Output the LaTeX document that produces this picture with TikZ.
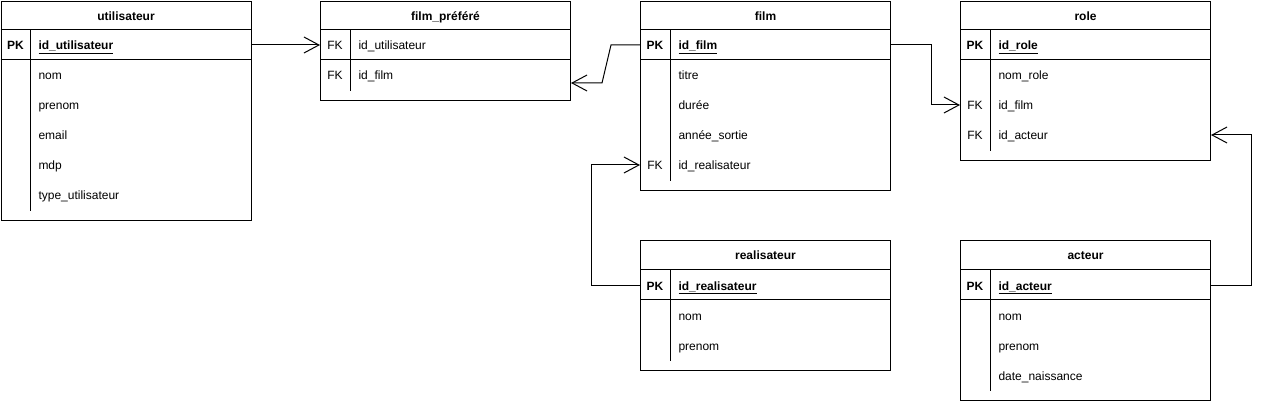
\documentclass[tikz,border=0pt]{standalone}
\usepackage{fontspec}
\setmainfont{Liberation Sans}
\usetikzlibrary{arrows.meta}
\newcommand\ertable[5]{%
  \node[tbl, minimum height=#4pt] (#1) at (#2,#3) {};
  \node[ttl] (#1-t) at ([yshift=-14.5pt]#1.north) {#5};
  \draw ([yshift=-29pt]#1.north west) -- ([yshift=-29pt]#1.north east);
  \draw ([yshift=-59pt]#1.north west) -- ([yshift=-59pt]#1.north east);
  \draw ([shift={(30pt,-29pt)}]#1.north west) -- ([shift={(30pt,10pt)}]#1.south west);
}
\begin{document}
\begin{tikzpicture}[x=1pt,y=-1pt, line width=1pt,
  tbl/.style={draw, rectangle, minimum width=250pt, anchor=north west, inner sep=0pt},
  ttl/.style={font=\bfseries\fontsize{12}{14}\selectfont, anchor=center, inner sep=0pt, text height=11pt, text depth=1pt},
  key/.style={font=\fontsize{12}{14}\selectfont, anchor=center, inner sep=0pt, text height=11pt, text depth=1pt},
  pkey/.style={key, font=\bfseries\fontsize{12}{14}\selectfont},
  fld/.style={font=\fontsize{12}{14}\selectfont, anchor=west, inner sep=0pt, text height=11pt, text depth=1pt},
  pfld/.style={fld, font=\bfseries\fontsize{12}{14}\selectfont},
  rel/.style={-{Straight Barb[length=15pt,width=16pt]}, line width=1pt}
]
\fill[white] (0,0) rectangle (1267,401);
\useasboundingbox (0,0) rectangle (1267,401);

% utilisateur
\ertable{u}{0.5}{1}{219}{utilisateur}
\node[pkey] (upk-k) at (15.5,45) {PK};
\node[pfld] (upk) at (38,45) {\underline{id\_utilisateur}};
\node[fld] (unom) at (38,75) {nom};
\node[fld] (upre) at (38,105) {prenom};
\node[fld] (umail) at (38,135) {email};
\node[fld] (umdp) at (38,165) {mdp};
\node[fld] (utype) at (38,195) {type\_utilisateur};

% film_prefere
\ertable{fp}{320}{1}{99}{film\_préféré}
\node[key] (fpu-k) at (335,45) {FK};
\node[fld] (fpu) at (358,45) {id\_utilisateur};
\node[key] (fpf-k) at (335,75) {FK};
\node[fld] (fpf) at (358,75) {id\_film};

% film
\ertable{f}{640}{1}{189}{film}
\node[pkey] (fpk-k) at (655,45) {PK};
\node[pfld] (fpk) at (678,45) {\underline{id\_film}};
\node[fld] (ftitre) at (678,75) {titre};
\node[fld] (fduree) at (678,105) {durée};
\node[fld] (fannee) at (678,135) {année\_sortie};
\node[key] (freal-k) at (655,165) {FK};
\node[fld] (freal) at (678,165) {id\_realisateur};

% role
\ertable{r}{960}{1}{159}{role}
\node[pkey] (rpk-k) at (975,45) {PK};
\node[pfld] (rpk) at (998,45) {\underline{id\_role}};
\node[fld] (rnom) at (998,75) {nom\_role};
\node[key] (rfilm-k) at (975,105) {FK};
\node[fld] (rfilm) at (998,105) {id\_film};
\node[key] (ract-k) at (975,135) {FK};
\node[fld] (ract) at (998,135) {id\_acteur};

% realisateur
\ertable{re}{640}{240}{130}{realisateur}
\node[pkey] (repk-k) at (655,285) {PK};
\node[pfld] (repk) at (678,285) {\underline{id\_realisateur}};
\node[fld] (renom) at (678,315) {nom};
\node[fld] (repre) at (678,345) {prenom};

% acteur
\ertable{a}{960}{240}{160}{acteur}
\node[pkey] (apk-k) at (975,285) {PK};
\node[pfld] (apk) at (998,285) {\underline{id\_acteur}};
\node[fld] (anom) at (998,315) {nom};
\node[fld] (apre) at (998,345) {prenom};
\node[fld] (adate) at (998,375) {date\_naissance};

% connectors
\draw[rel] (u.east |- upk) -- (fp.west |- fpu);
\coordinate (fpa) at (602,83);
\coordinate (fpb) at (611,45);
\draw[rel] (f.west |- fpk) -- (fpb) -- (fpa) -- (fpa -| fp.east);
\draw[rel] (f.east |- fpk) -- ++(40,0) |- (r.west |- rfilm);
\draw[rel] (a.east |- apk) -- ++(40,0) |- (r.east |- ract);
\draw[rel] (re.west |- repk) -- ++(-49,0) |- (f.west |- freal);
\end{tikzpicture}
\end{document}
